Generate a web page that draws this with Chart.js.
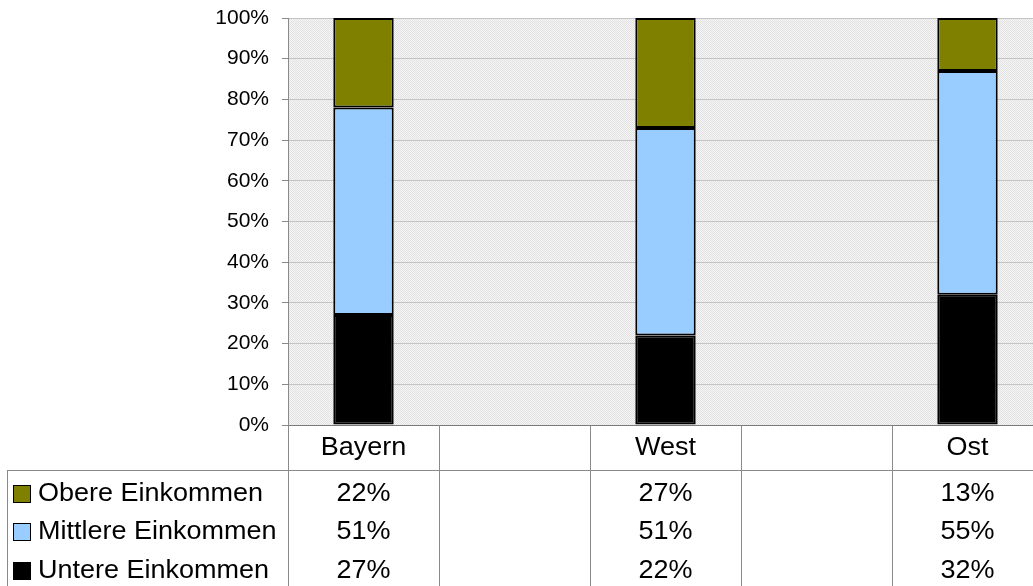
<!DOCTYPE html>
<html><head><meta charset="utf-8">
<script src="https://cdn.jsdelivr.net/npm/chart.js@4.4.1/dist/chart.umd.min.js"></script>
<style>html,body{margin:0;padding:0;overflow:hidden;background:#fff;width:1033px;height:586px}canvas{display:block}</style>
</head><body>
<canvas id="c" width="1043" height="586"></canvas>
<script>
const categories = ['Bayern', '', 'West', '', 'Ost'];
const seriesNames = ['Obere Einkommen', 'Mittlere Einkommen', 'Untere Einkommen'];
const obere = [22, null, 27, null, 13];
const mittlere = [51, null, 51, null, 55];
const untere = [27, null, 22, null, 32];
const seriesColors = ['#808000', '#99ccff', '#000000'];
const tableSeries = [obere, mittlere, untere];

const FONT = '"Liberation Sans", Arial, sans-serif';

// dotted background pattern
const pc = document.createElement('canvas');
pc.width = 2; pc.height = 2;
const pctx = pc.getContext('2d');
pctx.fillStyle = '#f5f5f5'; pctx.fillRect(0, 0, 2, 2);
pctx.fillStyle = '#e2e2e2'; pctx.fillRect(0, 0, 1, 1); pctx.fillRect(1, 1, 1, 1);

const bgPlugin = {
  id: 'bg',
  beforeDraw(chart) {
    const {ctx, chartArea: a} = chart;
    ctx.save();
    ctx.fillStyle = ctx.createPattern(pc, 'repeat');
    ctx.fillRect(a.left, a.top, a.right - a.left, a.bottom - a.top);
    ctx.restore();
  }
};

function stretchText(ctx, s, x, y, align) {
  ctx.save();
  ctx.translate(x, y);
  ctx.scale(1.08, 1);
  ctx.textAlign = align;
  ctx.textBaseline = 'middle';
  ctx.fillText(s, 0, 0);
  ctx.restore();
}

const tablePlugin = {
  id: 'table',
  afterDraw(chart) {
    const {ctx, chartArea: a} = chart;
    const xs = chart.scales.x;
    const n = categories.length;
    const w = (a.right - a.left) / n;
    const bottom = chart.height;
    const headerLine = a.bottom + 45;
    ctx.save();
    ctx.strokeStyle = '#8a8a8a';
    ctx.lineWidth = 1;
    ctx.beginPath();
    for (let i = 0; i <= n; i++) {
      const x = Math.round(xs.getPixelForValue(0) - w / 2 + i * w) + 0.5;
      ctx.moveTo(x, a.bottom); ctx.lineTo(x, bottom);
    }
    ctx.moveTo(7, headerLine + 0.5); ctx.lineTo(a.right, headerLine + 0.5);
    ctx.moveTo(7.5, headerLine); ctx.lineTo(7.5, bottom);
    ctx.stroke();

    ctx.fillStyle = '#000';
    ctx.font = '25px ' + FONT;
    categories.forEach((c, i) => {
      if (c) stretchText(ctx, c, xs.getPixelForValue(i), a.bottom + 23, 'center');
    });
    const rowY = [a.bottom + 69, a.bottom + 107, a.bottom + 146];
    tableSeries.forEach((arr, r) => {
      arr.forEach((v, i) => {
        if (v !== null) stretchText(ctx, v + '%', xs.getPixelForValue(i), rowY[r], 'center');
      });
      // legend key
      ctx.fillStyle = seriesColors[r];
      ctx.fillRect(13, rowY[r] - 9, 18, 18);
      ctx.strokeStyle = '#000';
      ctx.lineWidth = 1;
      ctx.strokeRect(13.5, rowY[r] - 8.5, 17, 17);
      ctx.fillStyle = '#000';
      stretchText(ctx, seriesNames[r], 38, rowY[r], 'left');
    });
    ctx.restore();
  }
};

new Chart(document.getElementById('c'), {
  type: 'bar',
  data: {
    labels: categories,
    datasets: [
      {label: seriesNames[2], data: untere, backgroundColor: seriesColors[2]},
      {label: seriesNames[1], data: mittlere, backgroundColor: seriesColors[1]},
      {label: seriesNames[0], data: obere, backgroundColor: seriesColors[0]}
    ].map(d => Object.assign(d, {borderColor: '#000', borderWidth: 2, borderSkipped: false, barPercentage: 0.4, categoryPercentage: 1}))
  },
  options: {
    responsive: false,
    animation: false,
    devicePixelRatio: 1,
    layout: {padding: {top: 18, left: 0, right: 0, bottom: 0}},
    plugins: {legend: {display: false}, tooltip: {enabled: false}},
    scales: {
      x: {
        stacked: true,
        grid: {display: false},
        border: {display: true, color: '#7a7a7a', width: 1},
        ticks: {display: false},
        afterFit(s) { s.height = 161; s.paddingLeft = 0; s.paddingRight = 0; }
      },
      y: {
        stacked: true,
        min: 0, max: 100,
        ticks: {stepSize: 10, padding: 13, color: '#000', font: {family: FONT, size: 21}, callback: v => v + '%'},
        grid: {color: '#c4c4c4', tickColor: '#8a8a8a', tickLength: 6},
        border: {display: true, color: '#8a8a8a', width: 1},
        afterFit(s) { s.width = 288; s.paddingTop = 0; s.paddingBottom = 0; }
      }
    }
  },
  plugins: [bgPlugin, tablePlugin]
});
</script>
</body></html>
